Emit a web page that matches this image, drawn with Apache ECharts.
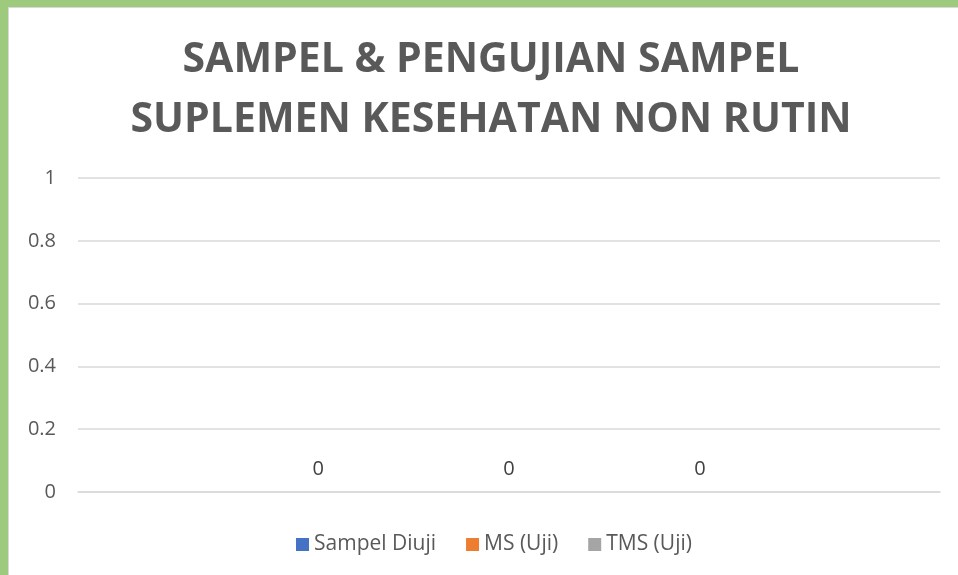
<!DOCTYPE html>
<html><head><meta charset="utf-8">
<script src="https://cdn.jsdelivr.net/npm/echarts@6/dist/echarts.min.js"></script>
<style>
html,body{margin:0;padding:0;width:958px;height:575px;overflow:hidden;background:#9dca7d;}
#panel{position:absolute;left:9px;top:8px;width:949px;height:567px;background:#fff;box-shadow:0 0 0 1px #d9d9d9;}
#chart{position:absolute;left:0;top:0;width:958px;height:575px;}
</style></head>
<body><div id="panel"></div><div id="chart"></div>
<script>
const categories = [''];
const seriesNames = ['Sampel Diuji', 'MS (Uji)', 'TMS (Uji)'];
const sampelDiuji = [0];
const msUji = [0];
const tmsUji = [0];
const yTicks = [0, 0.2, 0.4, 0.6, 0.8, 1];
const colors = ['#4472C4', '#ED7D31', '#A5A5A5'];
const font = 'Open Sans';
const chart = echarts.init(document.getElementById('chart'));
const lbl = {show:true, position:'top', distance:13, color:'#404040', fontSize:20, fontFamily:font};
chart.setOption({
  animation:false,
  title:{text:'SAMPEL & PENGUJIAN SAMPEL\nSUPLEMEN KESEHATAN NON RUTIN', left:486, top:25, textAlign:'center',
    textStyle:{fontFamily:font, fontWeight:'bold', fontSize:41, lineHeight:60, color:'#595959'}},
  legend:{bottom:15, left:291, itemWidth:13, itemHeight:13, itemGap:30, icon:'rect',
    textStyle:{fontFamily:font, fontSize:21, color:'#595959'}, data:seriesNames},
  grid:{left:78, right:18, top:178, bottom:83},
  xAxis:{type:'category', data:categories, axisLine:{lineStyle:{color:'#d9d9d9', width:1.5}}, axisTick:{show:false}, axisLabel:{show:false}},
  yAxis:{type:'value', min:yTicks[0], max:yTicks[yTicks.length-1], interval:0.2, axisLine:{show:false}, axisTick:{show:false},
    splitLine:{lineStyle:{color:'#d9d9d9', width:1.5}},
    axisLabel:{margin:22, color:'#595959', fontSize:20, fontFamily:font}},
  series:[
    {name:seriesNames[0], type:'bar', data:sampelDiuji, color:colors[0], barWidth:166, barGap:'15%', label:lbl},
    {name:seriesNames[1], type:'bar', data:msUji, color:colors[1], barWidth:166, barGap:'15%', label:lbl},
    {name:seriesNames[2], type:'bar', data:tmsUji, color:colors[2], barWidth:166, barGap:'15%', label:lbl}
  ]
});
</script></body></html>
